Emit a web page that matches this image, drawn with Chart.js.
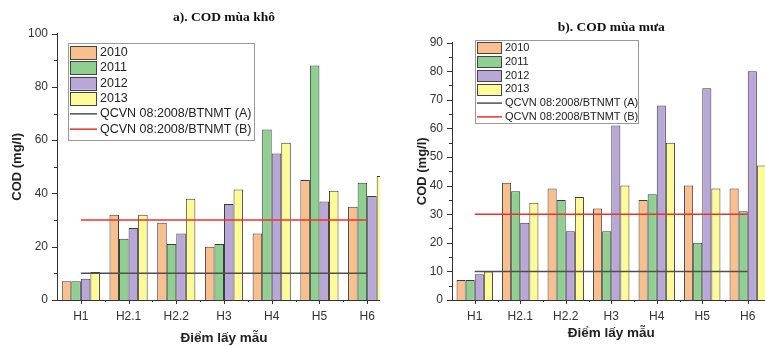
<!DOCTYPE html>
<html>
<head>
<meta charset="utf-8">
<script src="https://cdn.jsdelivr.net/npm/chart.js@4.4.0/dist/chart.umd.min.js"></script>
<style>
  html, body { margin: 0; padding: 0; background: #fff; }
  .panel { position: absolute; top: 0; height: 346px; overflow: hidden; }
  #dryWrap { left: 0; width: 380px; }
  #wetWrap { left: 380px; width: 385px; }
  .panel canvas { position: absolute; left: 0; top: 0; }
</style>
</head>
<body>
<div class="panel" id="dryWrap"><canvas id="dryChart" width="400" height="346"></canvas></div>
<div class="panel" id="wetWrap"><canvas id="wetChart" width="400" height="346"></canvas></div>
<script>
const sites = ['H1', 'H2.1', 'H2.2', 'H3', 'H4', 'H5', 'H6'];
const years = ['2010', '2011', '2012', '2013'];

// COD (mg/l) - dry season
const dry2010 = [7, 32, 29, 20, 25, 45, 35];
const dry2011 = [7, 23, 21, 21, 64, 88, 44];
const dry2012 = [8, 27, 25, 36, 55, 37, 39];
const dry2013 = [10.5, 32, 38, 41.5, 59, 41, 46.5];

// COD (mg/l) - rainy season
const wet2010 = [7, 41, 39, 32, 35, 40, 39];
const wet2011 = [7, 38, 35, 24, 37, 20, 31];
const wet2012 = [9, 27, 24, 61, 68, 74, 80];
const wet2013 = [10, 34, 36, 40, 55, 39, 47];

// QCVN 08:2008/BTNMT limits, column A and B
const limitLabels = ['QCVN 08:2008/BTNMT (A)', 'QCVN 08:2008/BTNMT (B)'];
const limitA = [10, 10, 10, 10, 10, 10, 10];
const limitB = [30, 30, 30, 30, 30, 30, 30];

const dryTicks = [0, 20, 40, 60, 80, 100];
const wetTicks = [0, 10, 20, 30, 40, 50, 60, 70, 80, 90];

const barColors = ['#f9c08e', '#8fd090', '#b9a7d7', '#fdfb98'];
const lineColors = ['#505050', '#e8342e'];
const FONT = "'Liberation Sans', Arial, sans-serif";

// Minor/major tick marks on both axes (Origin style)
const axisTicks = {
    id: 'axisTicks',
    afterDraw(chart) {
        const {ctx} = chart;
        const xs = chart.scales.x, ys = chart.scales.y;
        ctx.save();
        ctx.strokeStyle = '#333';
        ctx.lineWidth = 1;
        ctx.beginPath();
        const ticks = ys.ticks.map(t => t.value);
        ticks.forEach((v, i) => {
            const py = Math.round(ys.getPixelForValue(v)) + 0.5;
            ctx.moveTo(ys.right - 5, py); ctx.lineTo(ys.right, py);
            if (i < ticks.length - 1) {
                const my = Math.round(ys.getPixelForValue((v + ticks[i + 1]) / 2)) + 0.5;
                ctx.moveTo(ys.right - 3, my); ctx.lineTo(ys.right, my);
            }
        });
        sites.forEach((s, i) => {
            const px = Math.round(xs.getPixelForValue(i)) + 0.5;
            ctx.moveTo(px, xs.top); ctx.lineTo(px, xs.top + 4);
            if (i < sites.length - 1) {
                const mx = Math.round(xs.getPixelForValue(i + 0.5)) + 0.5;
                ctx.moveTo(mx, xs.top); ctx.lineTo(mx, xs.top + 2);
            }
        });
        ctx.stroke();
        ctx.restore();
    }
};

// Boxed legend placed inside the plot area
const boxLegend = {
    id: 'boxLegend',
    afterDraw(chart, args, o) {
        const {ctx} = chart;
        ctx.save();
        ctx.fillStyle = '#fff';
        ctx.fillRect(o.x, o.y, o.w, o.h);
        ctx.strokeStyle = '#999';
        ctx.lineWidth = 1;
        ctx.strokeRect(o.x + 0.5, o.y + 0.5, o.w, o.h);
        ctx.font = o.font;
        ctx.textBaseline = 'middle';
        chart.data.datasets.forEach((ds, i) => {
            const cy = o.y + o.pad + o.rowH * (i + 0.5);
            const sx = o.x + 2;
            if (ds.type === 'line') {
                ctx.strokeStyle = ds.borderColor;
                ctx.lineWidth = 1.5;
                ctx.beginPath();
                ctx.moveTo(sx, cy);
                ctx.lineTo(sx + o.swatchW, cy);
                ctx.stroke();
            } else {
                ctx.fillStyle = ds.backgroundColor;
                ctx.fillRect(sx, cy - o.swatchH / 2, o.swatchW, o.swatchH);
                ctx.strokeStyle = '#444';
                ctx.lineWidth = 1;
                ctx.strokeRect(sx + 0.5, Math.round(cy - o.swatchH / 2) + 0.5, o.swatchW - 1, o.swatchH);
            }
            ctx.fillStyle = '#222';
            ctx.fillText(ds.label, sx + o.swatchW + 3, cy);
        });
        ctx.restore();
    }
};

function makeChart(id, title, series, yTicks, cfg) {
    const datasets = series.map((data, i) => ({
        type: 'bar',
        label: years[i],
        data: data,
        backgroundColor: barColors[i],
        borderColor: '#3c3c3c',
        borderWidth: 1,
        categoryPercentage: 0.8,
        barPercentage: 1.0,
        order: 1
    }));
    [limitA, limitB].forEach((data, i) => {
        datasets.push({
            type: 'line',
            label: limitLabels[i],
            data: data,
            borderColor: lineColors[i],
            borderWidth: 1.5,
            pointRadius: 0,
            fill: false,
            order: 0
        });
    });

    return new Chart(document.getElementById(id), {
        type: 'bar',
        data: { labels: sites, datasets: datasets },
        options: {
            responsive: false,
            animation: false,
            devicePixelRatio: 1,
            layout: { padding: { left: 0, right: cfg.padRight, top: 0, bottom: 0 } },
            plugins: {
                legend: { display: false },
                tooltip: { enabled: false },
                title: {
                    display: true,
                    text: title,
                    fullSize: false,
                    color: '#111',
                    font: { family: "'Liberation Serif', 'Times New Roman', serif", size: 13.5, weight: 'bold' },
                    padding: { top: cfg.titleTop, bottom: cfg.titleBottom }
                },
                boxLegend: cfg.legend
            },
            scales: {
                x: {
                    afterFit: s => { s.height = 46; },
                    grid: { display: false, drawTicks: false },
                    border: { display: true, color: '#333', width: 1 },
                    ticks: { padding: 9, color: '#333', font: { family: FONT, size: 12 } },
                    title: {
                        display: true,
                        text: 'Điểm lấy mẫu',
                        color: '#222',
                        font: { family: FONT, size: 13.5, weight: 'bold' },
                        padding: { top: 0, bottom: cfg.xTitlePad }
                    }
                },
                y: {
                    min: 0,
                    max: yTicks[yTicks.length - 1],
                    afterBuildTicks: s => { s.ticks = yTicks.map(v => ({ value: v })); },
                    afterFit: s => { s.width = cfg.yWidth; },
                    grid: { display: false, drawTicks: false },
                    border: { display: true, color: '#333', width: 1 },
                    ticks: { padding: 9, color: '#333', font: { family: FONT, size: 12 } },
                    title: {
                        display: true,
                        text: 'COD (mg/l)',
                        color: '#222',
                        font: { family: FONT, size: 13, weight: 'bold' },
                        padding: { top: cfg.yTitlePad, bottom: 0 }
                    }
                }
            }
        },
        plugins: [axisTicks, boxLegend]
    });
}

makeChart('dryChart', 'a). COD mùa khô', [dry2010, dry2011, dry2012, dry2013], dryTicks, {
    padRight: 9, yWidth: 57, yTitlePad: 10,
    titleTop: 9, titleBottom: 8.4, xTitlePad: 0,
    legend: { x: 68, y: 43, w: 186, h: 97, pad: 2, rowH: 15.3, swatchW: 27, swatchH: 13,
              font: "12.5px 'Liberation Sans', Arial, sans-serif" }
});

makeChart('wetChart', 'b). COD mùa mưa', [wet2010, wet2011, wet2012, wet2013], wetTicks, {
    padRight: 9.5, yWidth: 72, yTitlePad: 35,
    titleTop: 19.2, titleBottom: 7.2, xTitlePad: 5,
    legend: { x: 95, y: 40, w: 163, h: 83, pad: 1, rowH: 13.8, swatchW: 25, swatchH: 11,
              font: "11px 'Liberation Sans', Arial, sans-serif" }
});
</script>
</body>
</html>
